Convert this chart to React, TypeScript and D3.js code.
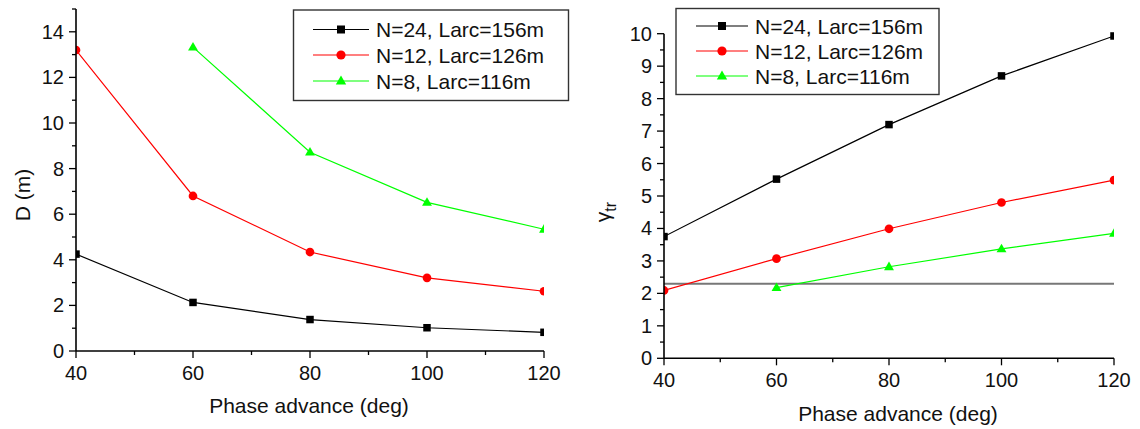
import React from "react";
import * as d3 from "d3";

// Phase advance per cell (deg)
const phase = [40, 60, 80, 100, 120];

// Dispersion D (m)
const dispN24 = [4.25, 2.13, 1.38, 1.02, 0.82];
const dispN12 = [13.2, 6.8, 4.34, 3.21, 2.62];
const dispN8: (number | null)[] = [null, 13.33, 8.72, 6.52, 5.34];

// Transition gamma
const gammaN24 = [3.75, 5.52, 7.2, 8.7, 9.93];
const gammaN12 = [2.09, 3.07, 3.99, 4.8, 5.49];
const gammaN8: (number | null)[] = [null, 2.18, 2.82, 3.37, 3.85];
const gammaRef = 2.3;

const seriesLabels = ["N=24, Larc=156m", "N=12, Larc=126m", "N=8, Larc=116m"];
const seriesColors = ["#000000", "#ff0000", "#00ff00"];
const seriesShapes = ["square", "circle", "triangle"] as const;

const xTicksMajor = [40, 60, 80, 100, 120];
const xTicksMinor = [50, 70, 90, 110];
const dTicksMajor = [0, 2, 4, 6, 8, 10, 12, 14];
const dTicksMinor = [1, 3, 5, 7, 9, 11, 13, 15];
const gTicksMajor = [0, 1, 2, 3, 4, 5, 6, 7, 8, 9, 10];
const gTicksMinor = [0.5, 1.5, 2.5, 3.5, 4.5, 5.5, 6.5, 7.5, 8.5, 9.5];

const FONT = "'Liberation Sans', Arial, Helvetica, sans-serif";

function Marker({ shape, x, y, color, size }: { shape: string; x: number; y: number; color: string; size: number }) {
  if (shape === "square") {
    return <rect x={x - size / 2} y={y - size / 2} width={size} height={size} fill={color} />;
  }
  if (shape === "circle") {
    return <circle cx={x} cy={y} r={size / 2 + 0.6} fill={color} />;
  }
  const s = size + 2.4;
  const h = (s * Math.sqrt(3)) / 2;
  const path = `M${x},${y - h * 0.6} L${x + s / 2},${y + h * 0.4} L${x - s / 2},${y + h * 0.4} Z`;
  return <path d={path} fill={color} />;
}

type PlotProps = {
  id: string;
  x0: number;
  x1: number;
  yTop: number;
  yBottom: number;
  yDomain: [number, number];
  series: (number | null)[][];
  yMajor: number[];
  yMinor: number[];
  refLine?: number;
  legend: { x: number; y: number; w: number; h: number; rowY: number[]; lineX0: number; lineX1: number; textX: number };
  xTitle: { x: number; y: number };
  yTitle: React.ReactNode;
};

function Plot(p: PlotProps) {
  const xs = d3.scaleLinear().domain([40, 120]).range([p.x0, p.x1]);
  const ys = d3.scaleLinear().domain(p.yDomain).range([p.yBottom, p.yTop]);
  const line = d3
    .line<[number, number | null]>()
    .defined((d) => d[1] !== null)
    .x((d) => xs(d[0]))
    .y((d) => ys(d[1] as number));

  return (
    <g fontFamily={FONT}>
      <defs>
        <clipPath id={p.id}>
          <rect x={p.x0} y={p.yTop - 10} width={p.x1 - p.x0} height={p.yBottom - p.yTop + 10} />
        </clipPath>
      </defs>

      {p.refLine !== undefined && (
        <line x1={p.x0} x2={p.x1} y1={ys(p.refLine)} y2={ys(p.refLine)} stroke="#777" strokeWidth={2} />
      )}

      <g clipPath={`url(#${p.id})`}>
        {p.series.map((vals, si) => (
          <g key={si}>
            <path
              d={line(phase.map((x, i) => [x, vals[i]] as [number, number | null])) || ""}
              fill="none"
              stroke={seriesColors[si]}
              strokeWidth={1.2}
            />
            {phase.map((x, i) =>
              vals[i] === null ? null : (
                <Marker key={i} shape={seriesShapes[si]} x={xs(x)} y={ys(vals[i] as number)} color={seriesColors[si]} size={7.5} />
              )
            )}
          </g>
        ))}
      </g>

      {/* axes */}
      <line x1={p.x0} x2={p.x0} y1={p.yTop} y2={p.yBottom} stroke="#000" strokeWidth={1.6} />
      <line x1={p.x0} x2={p.x1} y1={p.yBottom} y2={p.yBottom} stroke="#000" strokeWidth={1.6} />
      {xTicksMajor.map((t) => (
        <g key={"xM" + t}>
          <line x1={xs(t)} x2={xs(t)} y1={p.yBottom} y2={p.yBottom + 7} stroke="#000" strokeWidth={1.3} />
          <text x={xs(t)} y={p.yBottom + 29} textAnchor="middle" fontSize={20} fill="#111">
            {t}
          </text>
        </g>
      ))}
      {xTicksMinor.map((t) => (
        <line key={"xm" + t} x1={xs(t)} x2={xs(t)} y1={p.yBottom} y2={p.yBottom + 4} stroke="#000" strokeWidth={1.3} />
      ))}
      {p.yMajor.map((t) => (
        <g key={"yM" + t}>
          <line x1={p.x0 - 7} x2={p.x0} y1={ys(t)} y2={ys(t)} stroke="#000" strokeWidth={1.3} />
          <text x={p.x0 - 12} y={ys(t)} dy="0.35em" textAnchor="end" fontSize={20} fill="#111">
            {t}
          </text>
        </g>
      ))}
      {p.yMinor.map((t) => (
        <line key={"ym" + t} x1={p.x0 - 4} x2={p.x0} y1={ys(t)} y2={ys(t)} stroke="#000" strokeWidth={1.3} />
      ))}

      {/* titles */}
      <text x={p.xTitle.x} y={p.xTitle.y} textAnchor="middle" fontSize={21} fill="#111">
        Phase advance (deg)
      </text>
      {p.yTitle}

      {/* legend */}
      <rect x={p.legend.x} y={p.legend.y} width={p.legend.w} height={p.legend.h} fill="#fff" stroke="#333" strokeWidth={1.4} />
      {seriesLabels.map((lab, si) => {
        const ry = p.legend.rowY[si];
        const mx = (p.legend.lineX0 + p.legend.lineX1) / 2;
        return (
          <g key={lab}>
            <line x1={p.legend.lineX0} x2={p.legend.lineX1} y1={ry} y2={ry} stroke={seriesColors[si]} strokeWidth={1.2} />
            <Marker shape={seriesShapes[si]} x={mx} y={ry} color={seriesColors[si]} size={8} />
            <text x={p.legend.textX} y={ry} dy="0.36em" fontSize={21} fill="#111">
              {lab}
            </text>
          </g>
        );
      })}
    </g>
  );
}

export default function App() {
  return (
    <svg
      width={1140}
      height={429}
      viewBox="0 0 1140 429"
      style={{ position: "absolute", left: 0, top: 0, background: "#fff" }}
    >
      <rect width={1140} height={429} fill="#fff" />
      <Plot
        id="clipD"
        x0={76}
        x1={544}
        yTop={9}
        yBottom={351}
        yDomain={[0, 15]}
        series={[dispN24, dispN12, dispN8]}
        yMajor={dTicksMajor}
        yMinor={dTicksMinor}
        legend={{ x: 293.5, y: 10, w: 275, h: 90.5, rowY: [29.5, 55, 81], lineX0: 313, lineX1: 369, textX: 376 }}
        xTitle={{ x: 309, y: 413 }}
        yTitle={
          <text transform="translate(30,195) rotate(-90)" textAnchor="middle" fontSize={21} fill="#111" fontFamily={FONT}>
            D (m)
          </text>
        }
      />
      <Plot
        id="clipG"
        x0={664}
        x1={1114}
        yTop={33.7}
        yBottom={358.3}
        yDomain={[0, 10]}
        series={[gammaN24, gammaN12, gammaN8]}
        yMajor={gTicksMajor}
        yMinor={gTicksMinor}
        refLine={gammaRef}
        legend={{ x: 676, y: 8.5, w: 263, h: 86, rowY: [26, 51, 76], lineX0: 696, lineX1: 748, textX: 755 }}
        xTitle={{ x: 898, y: 421 }}
        yTitle={
          <text transform="translate(610,212) rotate(-90)" textAnchor="middle" fontSize={21} fill="#111" fontFamily={FONT}>
            γ
            <tspan fontSize={16} dy={6}>
              tr
            </tspan>
          </text>
        }
      />
    </svg>
  );
}
